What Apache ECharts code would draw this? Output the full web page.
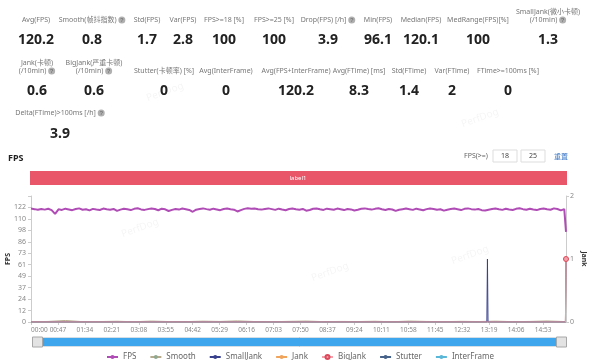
<!DOCTYPE html>
<html lang="zh">
<head>
<meta charset="UTF-8">
<title>FPS</title>
<script src="https://cdn.jsdelivr.net/npm/echarts@6.0.0/dist/echarts.min.js"></script>
<style>
    html, body { margin: 0; padding: 0; background: #fff; }
    #main { width: 600px; height: 360px; }
</style>
</head>
<body>
<div id="main"></div>
<script>
    // ---- data ----
    // stat panel
    const statLabels = ['Avg(FPS)', 'Smooth(帧抖指数)', 'Std(FPS)', 'Var(FPS)', 'FPS>=18 [%]', 'FPS>=25 [%]',
        'Drop(FPS) [/h]', 'Min(FPS)', 'Median(FPS)', 'MedRange(FPS)[%]', 'SmallJank(微小卡顿)\n(/10min)',
        'Jank(卡顿)\n(/10min)', 'BigJank(严重卡顿)\n(/10min)', 'Stutter(卡顿率) [%]', 'Avg(InterFrame)',
        'Avg(FPS+InterFrame)', 'Avg(FTime) [ms]', 'Std(FTime)', 'Var(FTime)', 'FTime>=100ms [%]',
        'Delta(FTime)>100ms [/h]'];
    const statValues = ['120.2', '0.8', '1.7', '2.8', '100', '100', '3.9', '96.1', '120.1', '100', '1.3',
        '0.6', '0.6', '0', '0', '120.2', '8.3', '1.4', '2', '0', '3.9'];
    const statHelp = [1, 6, 10, 11, 12, 20];

    // series (seconds from start)
    const seriesNames = ['FPS', 'Smooth', 'SmallJank', 'Jank', 'BigJank', 'Stutter', 'InterFrame'];
    const durationSec = 933;
    const fpsStep = 6;
    const fpsValues = [
        121.0, 120.4, 119.7, 120.6, 119.9, 120.8, 119.4, 115.3, 120.2, 119.6,
        120.9, 120.1, 119.3, 120.5, 121.2, 119.8, 120.3, 119.1, 120.7, 120.0,
        119.5, 121.0, 120.2, 119.7, 120.6, 118.6, 119.9, 120.8, 120.3, 119.4,
        120.7, 121.3, 120.1, 119.6, 120.4, 121.1, 120.5, 119.2, 120.9, 120.2,
        118.4, 119.6, 120.5, 119.9, 121.0, 120.3, 119.5, 117.6, 119.8, 120.6,
        121.2, 120.4, 119.7, 120.9, 120.1, 119.3, 120.6, 121.0, 120.2, 119.8,
        117.9, 119.4, 120.7, 121.4, 120.8, 121.1, 120.3, 119.9, 120.6, 121.2,
        120.4, 119.6, 120.9, 120.0, 119.2, 120.5, 121.0, 120.3, 119.7, 120.6,
        118.7, 119.5, 120.8, 121.1, 120.2, 119.6, 120.9, 120.4, 119.8, 121.0,
        120.3, 119.4, 120.6, 120.1, 118.9, 119.7, 120.8, 121.2, 120.5, 119.9,
        120.7, 121.3, 120.2, 119.5, 120.6, 120.0, 118.5, 119.8, 120.4, 121.0,
        120.3, 119.6, 120.9, 120.1, 119.2, 120.4, 121.1, 120.6, 119.8, 120.3,
        118.8, 119.7, 120.5, 121.0, 120.2, 119.4, 120.7, 121.2, 120.4, 119.9,
        120.6, 119.3, 118.9, 119.8, 120.5, 121.1, 120.3, 119.6, 120.8, 120.0,
        119.5, 120.7, 121.3, 120.4, 119.8, 120.9, 120.1, 119.4, 120.6, 121.0,
        120.2, 119.7, 121.2, 120.5, 119.1, 120.4
    ];
    const fpsLast = 96.1;
    const smoothStep = 30;
    const smoothValues = [0.3, 0.6, 1.6, 0.4, 0.5, 0.8, 0.3, 1.0, 0.5, 0.4, 0.9, 0.6, 1.2, 0.5, 0.3, 0.7,
        1.0, 0.4, 0.6, 0.5, 0.8, 0.3, 1.0, 0.6, 0.4, 0.7, 0.5, 0.9, 0.4, 0.6, 1.1, 0.5];
    const smallJankData = [[0, 0], [795, 0], [796, 1], [797, 0], [932, 0], [933, 1]];
    const jankData = [[0, 0], [932, 0], [933, 1]];
    const bigJankData = [[0, 0], [932, 0], [933, 1]];
    const stutterData = [[0, 0], [933, 0]];
    const interFrameData = [[0, 0], [933, 0]];
    const fpsMaxTick = 122.2;
    const fpsTicks = 11;
    const janTicks = [0, 1, 2];

    // ---- layout ----
    const colors = ['#b04cb5', '#8fa88f', '#38408e', '#f0a45c', '#dc4a5c', '#46618a', '#5ab7d8'];
    const statX = [36, 92, 147, 183, 224, 274, 328, 378, 421, 478, 548,
        37, 94, 164, 226, 296, 359, 409, 452, 508, 60];
    const statRow = [0, 0, 0, 0, 0, 0, 0, 0, 0, 0, 0, 1, 1, 1, 1, 1, 1, 1, 1, 1, 2];
    const rowLabelY = [20, 71, 113];
    const rowValueY = [40, 91, 134];

    function mmss(s) {
        s = Math.round(s);
        const m = Math.floor(s / 60), r = s % 60;
        return (m < 10 ? '0' : '') + m + ':' + (r < 10 ? '0' : '') + r;
    }

    const graphics = [];
    statLabels.forEach(function (lab, i) {
        const twoLine = lab.indexOf('\n') >= 0;
        const txt = statHelp.indexOf(i) >= 0 ? lab + ' {q|?}' : lab;
        graphics.push({
            type: 'text', x: statX[i], y: rowLabelY[statRow[i]] - (twoLine ? 4 : 0),
            style: {
                text: txt, fill: '#777', fontSize: 7, fontFamily: 'Noto Sans, Noto Sans CJK SC',
                align: 'center', verticalAlign: 'middle', textAlign: 'center', textVerticalAlign: 'middle',
                lineHeight: 8,
                rich: {
                    q: {backgroundColor: '#b0b0b0', color: '#fff', borderRadius: 4, width: 7, height: 7,
                        lineHeight: 7, fontSize: 6, fontWeight: 'bold', align: 'center'}
                }
            }
        });
        graphics.push({
            type: 'text', x: statX[i], y: rowValueY[statRow[i]],
            style: {
                text: statValues[i], fill: '#222', fontSize: 14, fontWeight: 'bold',
                fontFamily: 'Noto Sans', align: 'center', verticalAlign: 'middle',
                textAlign: 'center', textVerticalAlign: 'middle'
            }
        });
    });

    // watermarks
    [[140, 228], [330, 272], [470, 255], [165, 92], [480, 118]].forEach(function (p) {
        graphics.push({
            type: 'text', x: p[0], y: p[1], rotation: 0.35, z: -1,
            style: {text: 'PerfDog', fill: 'rgba(0,0,0,0.045)', fontSize: 10, fontFamily: 'Noto Sans',
                align: 'center', verticalAlign: 'middle', textAlign: 'center', textVerticalAlign: 'middle'}
        });
    });

    graphics.push(
        {type: 'text', x: 8, y: 158, style: {text: 'FPS', fill: '#222', fontSize: 9, fontWeight: 'bold',
            fontFamily: 'Noto Sans', verticalAlign: 'middle', textVerticalAlign: 'middle'}},
        {type: 'text', x: 476, y: 156, style: {text: 'FPS(>=)', fill: '#666', fontSize: 7, fontFamily: 'Noto Sans',
            align: 'center', verticalAlign: 'middle', textAlign: 'center', textVerticalAlign: 'middle'}},
        {type: 'rect', shape: {x: 493, y: 150, width: 24, height: 12}, style: {fill: '#fff', stroke: '#ddd', lineWidth: 1}},
        {type: 'rect', shape: {x: 521, y: 150, width: 24, height: 12}, style: {fill: '#fff', stroke: '#ddd', lineWidth: 1}},
        {type: 'text', x: 505, y: 156, style: {text: '18', fill: '#444', fontSize: 7, fontFamily: 'Noto Sans',
            align: 'center', verticalAlign: 'middle', textAlign: 'center', textVerticalAlign: 'middle'}},
        {type: 'text', x: 533, y: 156, style: {text: '25', fill: '#444', fontSize: 7, fontFamily: 'Noto Sans',
            align: 'center', verticalAlign: 'middle', textAlign: 'center', textVerticalAlign: 'middle'}},
        {type: 'text', x: 561, y: 156, style: {text: '重置', fill: '#3b78c8', fontSize: 7, fontFamily: 'Noto Sans CJK SC',
            align: 'center', verticalAlign: 'middle', textAlign: 'center', textVerticalAlign: 'middle'}},
        {type: 'rect', shape: {x: 30, y: 171, width: 537, height: 14}, style: {fill: '#e9566a'}},
        {type: 'text', x: 298, y: 178, style: {text: 'label1', fill: '#fff', fontSize: 6, fontFamily: 'Noto Sans',
            align: 'center', verticalAlign: 'middle', textAlign: 'center', textVerticalAlign: 'middle'}}
    );

    // ---- chart ----
    const fpsData = fpsValues.map(function (v, i) { return [i * fpsStep, v]; });
    fpsData.push([durationSec, fpsLast]);
    const smoothData = smoothValues.map(function (v, i) { return [Math.min(i * smoothStep, durationSec), v]; });
    const fpsInterval = fpsMaxTick / (fpsTicks - 1);

    function endMarker(data) {
        return data.map(function (d, i) {
            return i === data.length - 1 ? {value: d, symbolSize: 5} : d;
        });
    }

    const labelStyle = {color: '#888', fontSize: 7, fontFamily: 'Noto Sans'};

    const chart = echarts.init(document.getElementById('main'), null, {renderer: 'canvas'});
    const option = {
        animation: false,
        color: colors,
        textStyle: {fontFamily: 'Noto Sans, Noto Sans CJK SC'},
        graphic: graphics,
        grid: {left: 31, right: 34, top: 196, bottom: 38, containLabel: false, outerBoundsMode: 'none'},
        legend: {
            top: 348, itemWidth: 11, itemHeight: 5, itemGap: 13,
            textStyle: {color: '#666', fontSize: 8},
            data: seriesNames
        },
        xAxis: {
            type: 'value', min: 0, max: durationSec, interval: 47,
            axisLine: {lineStyle: {color: '#ccc'}},
            axisTick: {show: true, length: 3, lineStyle: {color: '#ccc'}},
            splitLine: {show: false},
            axisLabel: {
                formatter: mmss, margin: 5, showMaxLabel: false, alignMinLabel: 'left',
                color: '#888', fontSize: 6.5, fontFamily: 'Noto Sans'
            }
        },
        yAxis: [{
            type: 'value', min: 0, max: fpsInterval * fpsTicks, interval: fpsInterval,
            name: 'FPS', nameLocation: 'middle', nameGap: 20, nameRotate: 90, nameMoveOverlap: false,
            nameTextStyle: {fontSize: 7, fontWeight: 'bold', color: '#333'},
            axisLine: {show: true, lineStyle: {color: '#ccc'}},
            axisTick: {show: true, length: 3, lineStyle: {color: '#ccc'}},
            splitLine: {show: false},
            axisLabel: Object.assign({
                formatter: function (v) { return v > fpsMaxTick + 0.5 ? '' : String(Math.round(v)); }, margin: 5
            }, labelStyle)
        }, {
            type: 'value', min: janTicks[0], max: janTicks[janTicks.length - 1], interval: 1,
            name: 'Jank', nameLocation: 'middle', nameGap: 14, nameRotate: -90, nameMoveOverlap: false,
            nameTextStyle: {fontSize: 7, fontWeight: 'bold', color: '#333'},
            axisLine: {show: true, lineStyle: {color: '#ccc'}},
            axisTick: {show: true, length: 3, lineStyle: {color: '#ccc'}},
            splitLine: {show: false},
            axisLabel: Object.assign({margin: 4}, labelStyle)
        }],
        dataZoom: [{
            type: 'slider', xAxisIndex: 0, filterMode: 'none', start: 0, end: 100,
            left: 35, right: 39, bottom: 13, height: 10,
            showDetail: false, showDataShadow: false, brushSelect: false,
            moveHandleSize: 0,
            fillerColor: '#3ea6ec', backgroundColor: '#e8f2fa', borderColor: '#d5dde5',
            handleIcon: 'path://M0,0 L10,0 L10,10 L0,10 Z',
            handleSize: '100%',
            handleStyle: {color: '#e3e3e3', borderColor: '#a8a8a8', borderWidth: 1},
            dataBackground: {lineStyle: {opacity: 0}, areaStyle: {opacity: 0}}
        }],
        series: [
            {name: 'Smooth', type: 'line', data: smoothData, yAxisIndex: 0, symbol: 'none',
                lineStyle: {width: 1, color: '#b5ab8c'}, itemStyle: {color: colors[1]}, z: 2},
            {name: 'Stutter', type: 'line', data: stutterData, yAxisIndex: 1, symbol: 'none',
                lineStyle: {width: 1}, itemStyle: {color: colors[5]}, z: 2},
            {name: 'InterFrame', type: 'line', data: interFrameData, yAxisIndex: 1, symbol: 'none',
                lineStyle: {width: 1}, itemStyle: {color: colors[6]}, z: 2},
            {name: 'Jank', type: 'line', data: endMarker(jankData), yAxisIndex: 1, symbol: 'circle',
                symbolSize: 0, showAllSymbol: true, lineStyle: {width: 1}, itemStyle: {color: colors[3]}, z: 3},
            {name: 'SmallJank', type: 'line', data: smallJankData, yAxisIndex: 1, symbol: 'none',
                lineStyle: {width: 1}, itemStyle: {color: colors[2]}, z: 3},
            {name: 'BigJank', type: 'line', data: endMarker(bigJankData), yAxisIndex: 1, symbol: 'circle',
                symbolSize: 0, showAllSymbol: true, lineStyle: {width: 1},
                itemStyle: {color: '#f3a0aa', borderColor: colors[4], borderWidth: 1}, z: 4},
            {name: 'FPS', type: 'line', data: fpsData, yAxisIndex: 0, symbol: 'none',
                lineStyle: {width: 2, color: colors[0]}, itemStyle: {color: colors[0]}, z: 5}
        ]
    };
    chart.setOption(option);
</script>
</body>
</html>
